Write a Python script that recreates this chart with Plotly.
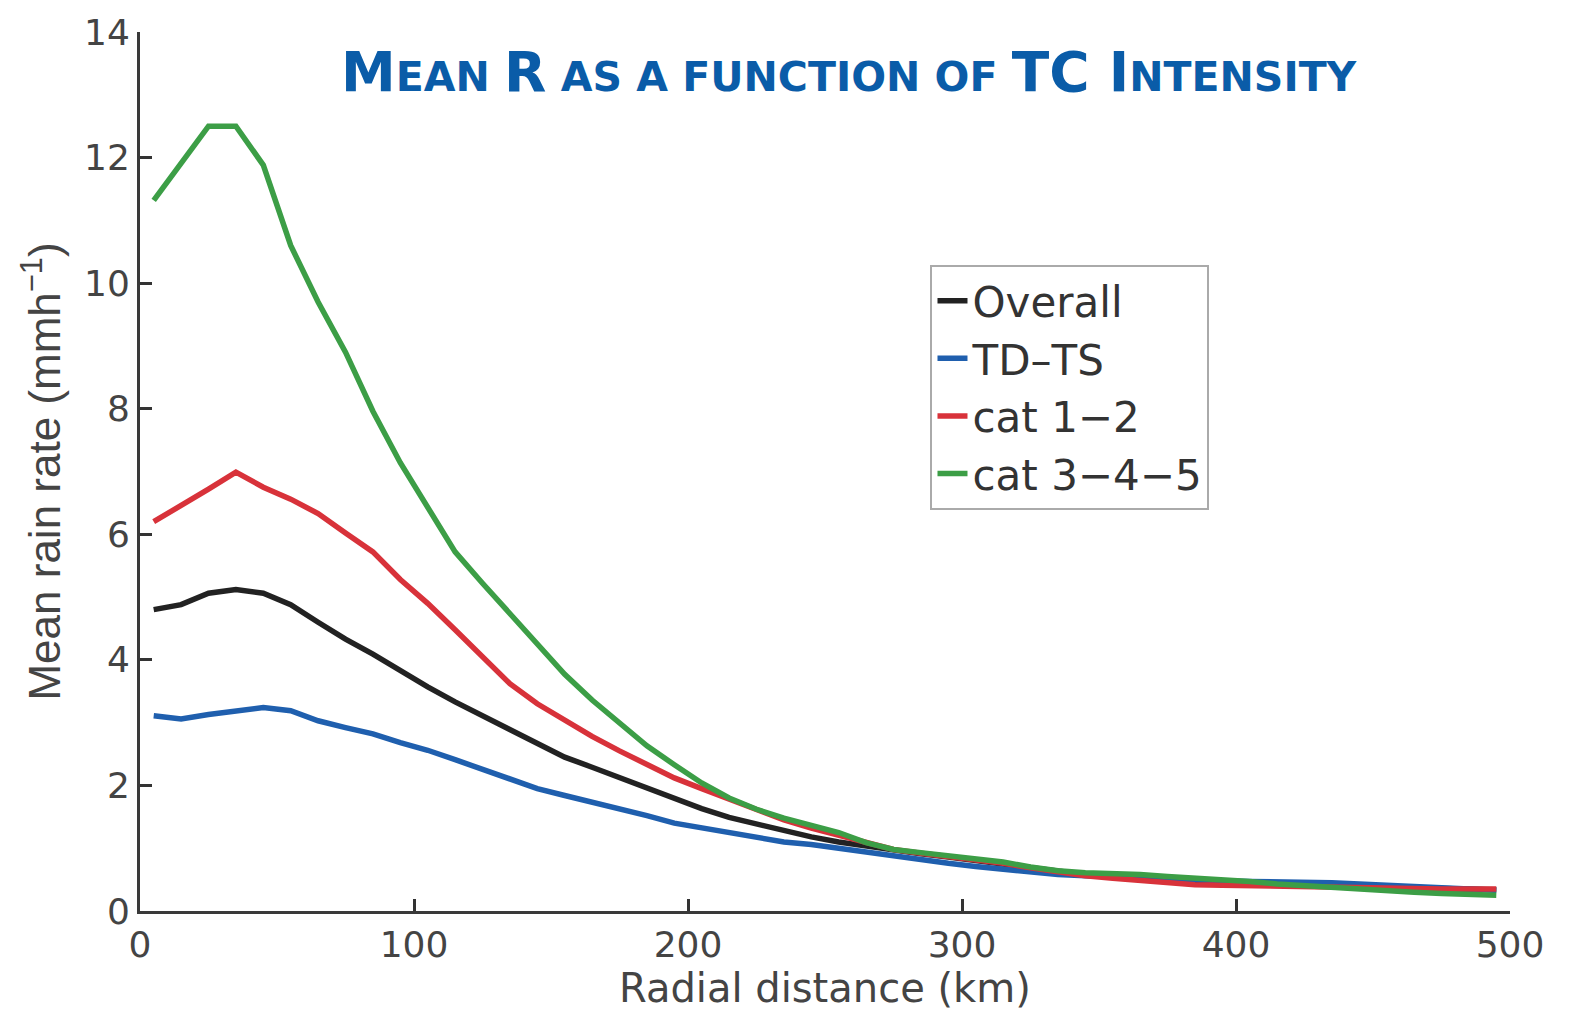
import plotly.graph_objects as go

radial_km = [5, 15, 25, 35, 45, 55, 65, 75, 85, 95,
             105, 115, 125, 135, 145, 155, 165, 175, 185, 195,
             205, 215, 225, 235, 245, 255, 265, 275, 285, 295,
             305, 315, 325, 335, 345, 355, 365, 375, 385, 395,
             405, 415, 425, 435, 445, 455, 465, 475, 485, 495]

overall = [4.80, 4.88, 5.06, 5.12, 5.06, 4.88, 4.60, 4.33, 4.09, 3.82,
           3.57, 3.33, 3.11, 2.88, 2.66, 2.45, 2.29, 2.12, 1.95, 1.78,
           1.63, 1.49, 1.38, 1.27, 1.18, 1.10, 1.03, 0.97, 0.91, 0.86,
           0.80, 0.74, 0.68, 0.62, 0.58, 0.55, 0.52, 0.49, 0.47, 0.45,
           0.43, 0.42, 0.41, 0.40, 0.39, 0.38, 0.37, 0.36, 0.35, 0.34]

td_ts = [3.11, 3.06, 3.13, 3.18, 3.24, 3.19, 3.03, 2.92, 2.82, 2.68,
         2.56, 2.41, 2.26, 2.10, 1.95, 1.84, 1.74, 1.63, 1.52, 1.40,
         1.32, 1.24, 1.16, 1.10, 1.06, 1.00, 0.93, 0.86, 0.80, 0.76,
         0.71, 0.66, 0.61, 0.58, 0.56, 0.54, 0.52, 0.50, 0.49, 0.48,
         0.47, 0.47, 0.46, 0.45, 0.43, 0.41, 0.39, 0.37, 0.35, 0.33]

cat_1_2 = [6.20, 6.45, 6.72, 6.99, 6.75, 6.56, 6.33, 6.02, 5.72, 5.28,
           4.90, 4.48, 4.04, 3.62, 3.30, 3.03, 2.78, 2.55, 2.33, 2.12,
           1.95, 1.78, 1.62, 1.45, 1.32, 1.20, 1.08, 0.98, 0.92, 0.87,
           0.82, 0.76, 0.69, 0.62, 0.56, 0.52, 0.48, 0.45, 0.42, 0.41,
           0.40, 0.39, 0.38, 0.37, 0.36, 0.36, 0.35, 0.35, 0.35, 0.35]

cat_3_4_5 = [11.32, 11.92, 12.50, 12.50, 11.88, 10.60, 9.70, 8.90, 7.96, 7.14,
             6.42, 5.72, 5.22, 4.73, 4.23, 3.77, 3.36, 3.00, 2.63, 2.33,
             2.04, 1.80, 1.62, 1.48, 1.36, 1.25, 1.09, 0.98, 0.93, 0.88,
             0.85, 0.78, 0.70, 0.64, 0.61, 0.60, 0.58, 0.55, 0.53, 0.50,
             0.47, 0.43, 0.40, 0.37, 0.34, 0.32, 0.30, 0.28, 0.27, 0.25]

series_names = ["Overall", "TD\u2013TS", "cat 1\u22122", "cat 3\u22124\u22125"]
series_values = [overall, td_ts, cat_1_2, cat_3_4_5]
series_colors = ["#222222", "#1f5fae", "#d8323a", "#3c9e46"]

x_ticks = [0, 100, 200, 300, 400, 500]
y_ticks = [0, 2, 4, 6, 8, 10, 12, 14]

fig = go.Figure()
for name, vals, col in zip(series_names, series_values, series_colors):
    fig.add_trace(go.Scatter(x=radial_km, y=vals, mode="lines", name=name,
                             line=dict(color=col, width=5.5)))

sans = "DejaVu Sans, Liberation Sans, Arial, sans-serif"
tick_font = dict(family=sans, size=36, color="#444444")
xtitle_font = dict(family=sans, size=40, color="#444444")
ytitle_font = dict(family="Liberation Sans, Arial, sans-serif", size=44, color="#444444")

fig.update_layout(
    width=1570, height=1011,
    margin=dict(l=140, r=60, t=28, b=100),
    paper_bgcolor="white", plot_bgcolor="white",
    showlegend=True,
    legend=dict(x=0.577, y=0.735, xanchor="left", yanchor="top",
                bgcolor="white", bordercolor="#aaaaaa", borderwidth=2,
                font=dict(family=sans, size=42, color="#333333"),
                tracegroupgap=0),
    xaxis=dict(range=[0, 500], tickvals=x_ticks, ticktext=[str(v) for v in x_ticks],
               ticks="inside", ticklen=12, tickwidth=3, tickcolor="#333333",
               showline=True, linecolor="#3a3a3a", linewidth=3, mirror=False,
               showgrid=False, zeroline=False, tickfont=tick_font),
    yaxis=dict(range=[0, 14], tickvals=y_ticks, ticktext=[str(v) for v in y_ticks],
               ticks="inside", ticklen=12, tickwidth=3, tickcolor="#333333",
               showline=True, linecolor="#3a3a3a", linewidth=3, mirror=False,
               showgrid=False, zeroline=False, tickfont=tick_font,
               title=dict(text="Mean rain rate (mmh<sup>\u22121</sup>)", font=ytitle_font, standoff=10)),
)

fig.add_annotation(text="Radial distance (km)", xref="paper", yref="paper",
                   x=0.5, y=-0.088, xanchor="center", yanchor="middle",
                   showarrow=False, font=xtitle_font)

big = "font-size:55px"
small = "font-size:41px"
title_html = (f"<span style='{big}'>M</span><span style='{small}'>EAN </span>"
              f"<span style='{big}'>R</span><span style='{small}'> AS A FUNCTION OF </span>"
              f"<span style='{big}'>TC I</span><span style='{small}'>NTENSITY</span>")
fig.add_annotation(text=title_html, xref="paper", yref="paper", x=0.518, y=0.955,
                   xanchor="center", yanchor="middle", showarrow=False,
                   font=dict(family="DejaVu Sans, sans-serif",
                             color="#0a5ca8", size=41, weight="bold"))

fig.write_html("out.html")
